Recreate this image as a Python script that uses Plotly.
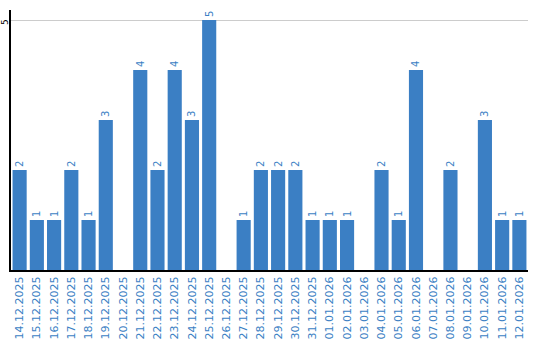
import plotly.graph_objects as go

dates = ["14.12.2025","15.12.2025","16.12.2025","17.12.2025","18.12.2025","19.12.2025",
         "20.12.2025","21.12.2025","22.12.2025","23.12.2025","24.12.2025","25.12.2025",
         "26.12.2025","27.12.2025","28.12.2025","29.12.2025","30.12.2025","31.12.2025",
         "01.01.2026","02.01.2026","03.01.2026","04.01.2026","05.01.2026","06.01.2026",
         "07.01.2026","08.01.2026","09.01.2026","10.01.2026","11.01.2026","12.01.2026"]
values = [2,1,1,2,1,3,0,4,2,4,3,5,0,1,2,2,2,1,1,1,0,2,1,4,0,2,0,3,1,1]
y_tick_vals = [5]
y_tick_text = ["5"]

bar_color = "#3b7fc4"
labels = [str(v) if v > 0 else "" for v in values]

fig = go.Figure(go.Bar(
    x=dates, y=values, marker_color=bar_color, marker_line_width=0,
    text=labels, textposition="outside", textangle=-90,
    textfont=dict(color=bar_color, size=10, family="DejaVu Sans"),
    cliponaxis=False,
))
fig.update_layout(
    width=540, height=340, margin=dict(l=11, r=12, t=10, b=70),
    paper_bgcolor="white", plot_bgcolor="white", bargap=0.18,
    showlegend=False,
    font=dict(family="DejaVu Sans"),
)
fig.update_xaxes(type="category", tickangle=-90, showline=True, linecolor="black", linewidth=2,
                 tickfont=dict(color=bar_color, size=11, family="DejaVu Sans"),
                 ticks="", showgrid=False, automargin=False)
fig.update_yaxes(range=[0, 5.2], tickvals=y_tick_vals, showticklabels=False,
                 showline=True, linecolor="black", linewidth=2,
                 gridcolor="#cccccc", gridwidth=1, zeroline=False, automargin=False)
for v, t in zip(y_tick_vals, y_tick_text):
    fig.add_annotation(text=t, x=0, xref="paper", y=v, yref="y", xanchor="center",
                       yanchor="middle", xshift=-6, yshift=-2, textangle=-90, showarrow=False,
                       font=dict(color="black", size=9, family="DejaVu Sans"))
fig.write_html("out.html")
